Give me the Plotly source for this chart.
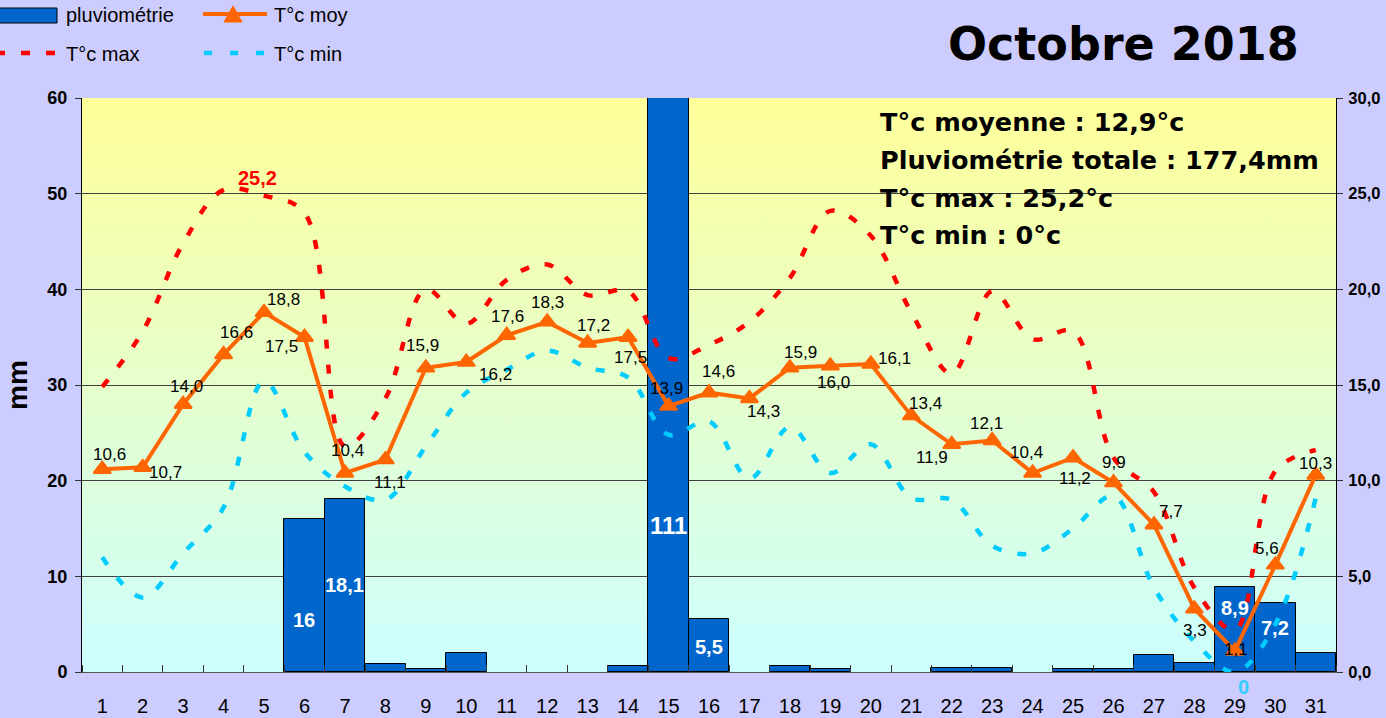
import base64
import plotly.graph_objects as go

# ---------------- data ----------------
days = list(range(1, 32))
day_labels = [str(d) for d in days]
pluvio = [0, 0, 0, 0, 0, 16, 18.1, 0.8, 0.3, 2.0,
          0, 0, 0, 0.6, 111, 5.5, 0, 0.6, 0.3, 0,
          0, 0.4, 0.4, 0, 0.3, 0.3, 1.8, 0.9, 8.9, 7.2, 2.0]
tmoy = [10.6, 10.7, 14.0, 16.6, 18.8, 17.5, 10.4, 11.1, 15.9, 16.2,
        17.6, 18.3, 17.2, 17.5, 13.9, 14.6, 14.3, 15.9, 16.0, 16.1,
        13.4, 11.9, 12.1, 10.4, 11.2, 9.9, 7.7, 3.3, 1.1, 5.6, 10.3]
tmax = [14.9, 17.8, 22.4, 25.2, 24.9, 24.0, 11.8, 14.3, 20.0, 18.2,
        20.5, 21.3, 19.7, 19.9, 16.4, 17.1, 18.3, 20.6, 24.1, 22.8,
        18.8, 15.6, 19.9, 17.4, 17.8, 11.2, 9.4, 4.4, 2.2, 10.5, 11.6]
tmin = [6.0, 3.9, 6.2, 8.6, 15.2, 11.5, 9.7, 9.0, 11.8, 14.6,
        15.8, 16.8, 15.9, 15.4, 12.4, 13.1, 10.1, 12.8, 10.4, 11.9,
        9.1, 9.0, 6.6, 6.2, 7.5, 9.2, 4.4, 1.6, 0.0, 2.5, 9.1]
left_ticks = [0, 10, 20, 30, 40, 50, 60]
right_ticks = [0, 5, 10, 15, 20, 25, 30]

# --------------- layout geometry (pixels) ---------------
W, H = 1386, 718
PL, PR, PT, PB = 82, 1336, 98, 672


def X(px):
    return (px - PL) / (PR - PL)


def Y(py):
    return (PB - py) / (PB - PT)


def fr(v, dec=None):
    s = (f"{v:.{dec}f}" if dec is not None else "%g" % round(v, 1))
    return s.replace(".", ",")


FONT = "Liberation Sans, Arial, sans-serif"
HEAVY = "DejaVu Sans, Liberation Sans, Arial, sans-serif"
ORANGE = "#FF6600"
RED = "#FF0000"
CYAN = "#00CCFF"
BLUE = "#0066CC"

fig = go.Figure()

fig.add_trace(go.Bar(
    x=days, y=[v if v > 0 else None for v in pluvio], name="pluviométrie",
    marker=dict(color=BLUE, line=dict(color="black", width=1)),
    width=1, showlegend=False, yaxis="y"))

dash_pat = "9px,16px"
fig.add_trace(go.Scatter(
    x=days, y=tmax, name="T°c max", mode="lines",
    line=dict(color=RED, width=4.5, dash=dash_pat, shape="spline", smoothing=1),
    showlegend=False, yaxis="y2"))
fig.add_trace(go.Scatter(
    x=days, y=tmin, name="T°c min", mode="lines",
    line=dict(color=CYAN, width=4.5, dash=dash_pat, shape="spline", smoothing=1),
    showlegend=False, yaxis="y2"))
fig.add_trace(go.Scatter(
    x=days, y=tmoy, name="T°c moy", mode="lines+markers",
    line=dict(color=ORANGE, width=4),
    marker=dict(symbol="triangle-up", size=15, color=ORANGE,
                line=dict(color=ORANGE, width=2)),
    showlegend=False, yaxis="y2"))

annotations = []

# labels of the mean temperature points (dx, dy in screen pixels)
label_offsets = [(7, -15), (23, 5), (3, -18), (13, -22), (19, -13), (-23, 9), (3, -23),
                 (5, 23), (-3, -22), (29, 12), (1, -19), (0, -19), (6, -17), (2, 20),
                 (-2, -18), (9, -21), (14, 13), (11, -15), (3, 17), (24, -5), (14, -12),
                 (-20, 13), (-6, -17), (-6, -21), (2, 21), (0, -20), (17, -13), (1, 22),
                 (1, -1), (-8, -16), (0, -11)]
for d, v, (dx, dy) in zip(days, tmoy, label_offsets):
    annotations.append(dict(x=d, y=v, xref="x", yref="y2", text=fr(v, 1),
                            showarrow=False, xshift=dx, yshift=-dy,
                            font=dict(family=FONT, size=17, color="black")))

# bar labels (white, inside)
bar_label_y = {6: 5.4, 7: 9.1, 15: 15.3, 16: 2.6, 29: 6.7, 30: 4.6}
for d, v in zip(days, pluvio):
    if v >= 5:
        annotations.append(dict(x=d, y=bar_label_y[d], xref="x", yref="y",
                                text=fr(v), showarrow=False,
                                font=dict(family=FONT, size=24 if v > 100 else 20,
                                          color="white", weight="bold")))

# max / min labels
imax = tmax.index(max(tmax))
annotations.append(dict(x=days[imax], y=tmax[imax], xref="x", yref="y2",
                        text=fr(tmax[imax]), showarrow=False, xshift=34, yshift=12,
                        font=dict(family=FONT, size=20, color=RED, weight="bold")))
imin = tmin.index(min(tmin))
annotations.append(dict(x=days[imin], y=tmin[imin], xref="x", yref="y2",
                        text=fr(tmin[imin]), showarrow=False, xshift=9, yshift=-15,
                        font=dict(family=FONT, size=20, color="#33CCFF", weight="bold")))

# title and summary
annotations.append(dict(x=X(1123), y=Y(44), xref="paper", yref="paper",
                        text="Octobre 2018", showarrow=False,
                        xanchor="center", yanchor="middle",
                        font=dict(family=HEAVY, size=46, color="black", weight="bold")))
mean_t = sum(tmoy) / len(tmoy)
summary = [f"T°c moyenne : {fr(mean_t)}°c",
           f"Pluviométrie totale : {fr(sum(pluvio))}mm",
           f"T°c max : {fr(max(tmax))}°c",
           f"T°c min : {fr(min(tmin))}°c"]
for txt, py in zip(summary, [122, 160, 198, 235]):
    annotations.append(dict(x=X(878), y=Y(py), xref="paper", yref="paper", text=txt,
                            showarrow=False, xanchor="left", yanchor="middle",
                            font=dict(family=HEAVY, size=25.5, color="black", weight="bold")))

# y axis title
annotations.append(dict(x=X(17), y=Y(385), xref="paper", yref="paper", text="mm",
                        showarrow=False, textangle=-90, xanchor="center", yanchor="middle",
                        font=dict(family=FONT, size=28, color="black", weight="bold")))

# legend (manual)
legend_texts = [("pluviométrie", 64, 15), ("T°c moy", 272, 15),
                ("T°c max", 64, 54), ("T°c min", 272, 54)]
for txt, px, py in legend_texts:
    annotations.append(dict(x=X(px), y=Y(py), xref="paper", yref="paper", text=txt,
                            showarrow=False, xanchor="left", yanchor="middle",
                            font=dict(family=FONT, size=20, color="black")))

shapes = [
    dict(type="rect", xref="paper", yref="paper", x0=X(-5), x1=X(57), y0=Y(23), y1=Y(8),
         fillcolor=BLUE, line=dict(color="black", width=1)),
    dict(type="line", xref="paper", yref="paper", x0=X(203), x1=X(267), y0=Y(14), y1=Y(14),
         line=dict(color=ORANGE, width=4)),
    dict(type="path", xref="paper", yref="paper",
         path=f"M{X(224)},{Y(22)} L{X(242)},{Y(22)} L{X(233)},{Y(6)} Z",
         fillcolor=ORANGE, line=dict(color=ORANGE, width=1)),
    dict(type="line", xref="paper", yref="paper", x0=X(-4), x1=X(60), y0=Y(53), y1=Y(53),
         line=dict(color=RED, width=4.5, dash="9px,16px")),
    dict(type="line", xref="paper", yref="paper", x0=X(204), x1=X(264), y0=Y(53), y1=Y(53),
         line=dict(color=CYAN, width=4.5, dash="8px,18px")),
]

# gradient plot background
svg = ('<svg xmlns="http://www.w3.org/2000/svg" width="100" height="100" '
       'preserveAspectRatio="none"><defs><linearGradient id="g" x1="0" y1="0" x2="0" y2="1">'
       '<stop offset="0" stop-color="#FFFF99"/><stop offset="1" stop-color="#CCFFFF"/>'
       '</linearGradient></defs><rect width="100" height="100" fill="url(#g)"/></svg>')
bg_src = "data:image/svg+xml;base64," + base64.b64encode(svg.encode()).decode()

fig.update_layout(
    width=W, height=H,
    margin=dict(l=PL, r=W - PR, t=PT, b=H - PB, pad=0, autoexpand=False),
    paper_bgcolor="#CCCCFF",
    plot_bgcolor="rgba(0,0,0,0)",
    separators=",.",
    bargap=0,
    showlegend=False,
    font=dict(family=FONT, color="black"),
    images=[dict(source=bg_src, xref="paper", yref="paper", x=0, y=1, sizex=1, sizey=1,
                 xanchor="left", yanchor="top", sizing="stretch", layer="below")],
    annotations=annotations,
    shapes=shapes,
    xaxis=dict(range=[0.5, 31.5], tickmode="array", tickvals=days, ticktext=day_labels,
               ticks="", showgrid=False, zeroline=False, automargin=False,
               showline=True, linecolor="#555555", linewidth=1,
               tickfont=dict(family=FONT, size=20, color="black"),
               ticklabelstandoff=16,
               minor=dict(tickmode="linear", tick0=0.5, dtick=1, ticks="inside",
                          ticklen=7, tickcolor="#333333", tickwidth=1, showgrid=False)),
    yaxis=dict(range=[0, 60], tickmode="array", tickvals=left_ticks, automargin=False,
               ticks="outside", ticklen=6, tickcolor="#333333", tickwidth=1,
               showline=True, linecolor="black", linewidth=1,
               showgrid=True, gridcolor="#404040", gridwidth=1, zeroline=False,
               tickfont=dict(family=FONT, size=18, color="black", weight="bold"),
               ticklabelstandoff=4),
    yaxis2=dict(range=[0, 30], tickmode="array", tickvals=right_ticks, tickformat=".1f",
                overlaying="y", side="right", automargin=False,
                ticks="outside", ticklen=6, tickcolor="#333333", tickwidth=1,
                showline=True, linecolor="black", linewidth=1,
                showgrid=False, zeroline=False,
                tickfont=dict(family=FONT, size=16.5, color="black", weight="bold"),
                ticklabelstandoff=2),
)

fig.write_html("out.html",
               config={"displayModeBar": False},
               post_script="document.body.style.margin='0';"
                           "document.body.style.overflow='hidden';"
                           "document.body.style.background='#CCCCFF';")
